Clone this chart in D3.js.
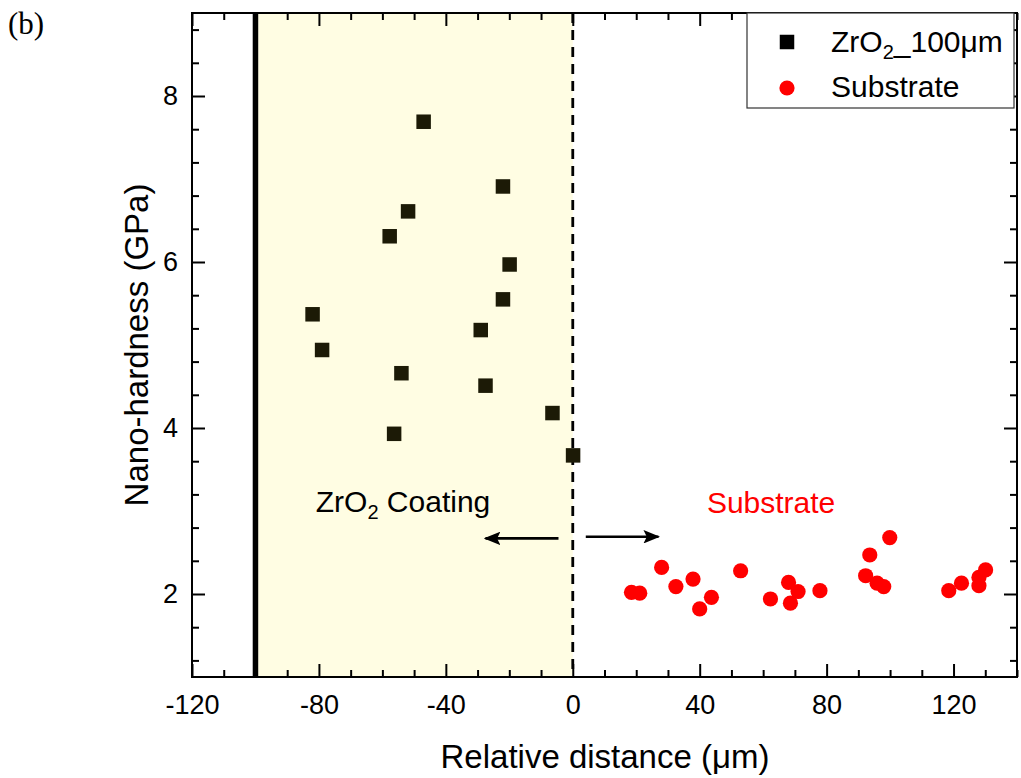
<!DOCTYPE html>
<html>
<head>
<meta charset="utf-8">
<script src="https://cdn.jsdelivr.net/npm/d3@7"></script>
<style>
  body { margin: 0; background: #fff; }
  svg text { font-family: "Liberation Sans", Arial, sans-serif; }
</style>
</head>
<body>
<svg width="1021" height="778" id="chart"></svg>
<script>
  // coating points (ZrO2_100um)
  var coatX = [-47.0, -22.0, -51.9, -57.7, -19.9, -22.0, -82.0, -29.0, -79.0, -54.0, -27.5, -6.4, -56.3, 0.1];
  var coatY = [7.69, 6.91, 6.61, 6.31, 5.97, 5.55, 5.37, 5.18, 4.94, 4.66, 4.51, 4.18, 3.93, 3.67];
  // substrate points
  var subX = [18.5, 21.1, 28.0, 32.5, 37.9, 40.0, 43.7, 52.9, 62.3, 68.0, 71.0, 68.6, 77.9,
              92.3, 93.6, 99.9, 95.9, 98.0, 118.5, 122.5, 128.0, 128.0, 130.1];
  var subY = [2.02, 2.01, 2.32, 2.09, 2.18, 1.82, 1.96, 2.28, 1.94, 2.14, 2.03, 1.89, 2.04,
              2.22, 2.47, 2.68, 2.13, 2.09, 2.04, 2.13, 2.10, 2.20, 2.29];

  var xTicks = [-120, -80, -40, 0, 40, 80, 120];
  var yTicks = [2, 4, 6, 8];
  var xDomain = [-120, 140], yDomain = [1, 9];
  var coatingRange = [-100, 0];

  var svg = d3.select("svg#chart"),
      margin = { top: 13, right: 4, bottom: 101, left: 192 },
      width = +svg.attr("width") - margin.left - margin.right,
      height = +svg.attr("height") - margin.top - margin.bottom,
      g = svg.append("g").attr("transform", "translate(" + margin.left + "," + margin.top + ")");

  var x = d3.scaleLinear().domain(xDomain).range([0, width]);
  var y = d3.scaleLinear().domain(yDomain).range([height, 0]);

  var xMinor = d3.range(-120, 141, 10).filter(function(v) { return xTicks.indexOf(v) < 0; });
  var yMinor = d3.range(1.2, 9, 0.4).map(function(v) { return +v.toFixed(1); })
    .filter(function(v) { return yTicks.indexOf(v) < 0; });

  // coating region
  g.append("rect")
    .attr("x", x(coatingRange[0]))
    .attr("y", 0)
    .attr("width", x(coatingRange[1]) - x(coatingRange[0]))
    .attr("height", height)
    .attr("fill", "#fffde3");

  g.append("line")
    .attr("x1", x(-100)).attr("x2", x(-100))
    .attr("y1", 0).attr("y2", height)
    .attr("stroke", "#000").attr("stroke-width", 5.5);

  g.append("line")
    .attr("x1", x(0)).attr("x2", x(0))
    .attr("y1", 0).attr("y2", height)
    .attr("stroke", "#000").attr("stroke-width", 2.8)
    .attr("stroke-dasharray", "10,7");

  // axes, ticks pointing inward
  function styleAxis(sel, size) {
    sel.select(".domain").remove();
    sel.selectAll("line").attr("stroke", "#000").attr("stroke-width", 2);
    sel.selectAll("text").attr("font-size", size).attr("fill", "#000")
      .style("font-family", "'Liberation Sans', Arial, sans-serif");
  }
  var plain = function(d) { return String(d); };

  g.append("g")
    .attr("transform", "translate(0," + height + ")")
    .call(d3.axisBottom(x).tickValues(xTicks).tickSize(-13).tickPadding(18).tickFormat(plain))
    .call(styleAxis, 27);
  g.append("g")
    .attr("transform", "translate(0," + height + ")")
    .call(d3.axisBottom(x).tickValues(xMinor).tickSize(-7).tickFormat(""))
    .call(styleAxis, 0);
  g.append("g")
    .call(d3.axisTop(x).tickValues(xTicks).tickSize(-13).tickFormat(""))
    .call(styleAxis, 0);
  g.append("g")
    .call(d3.axisTop(x).tickValues(xMinor).tickSize(-7).tickFormat(""))
    .call(styleAxis, 0);

  g.append("g")
    .call(d3.axisLeft(y).tickValues(yTicks).tickSize(-13).tickPadding(14).tickFormat(plain))
    .call(styleAxis, 27);
  g.append("g")
    .call(d3.axisLeft(y).tickValues(yMinor).tickSize(-7).tickFormat(""))
    .call(styleAxis, 0);
  g.append("g")
    .attr("transform", "translate(" + width + ",0)")
    .call(d3.axisRight(y).tickValues(yTicks).tickSize(-13).tickFormat(""))
    .call(styleAxis, 0);
  g.append("g")
    .attr("transform", "translate(" + width + ",0)")
    .call(d3.axisRight(y).tickValues(yMinor).tickSize(-7).tickFormat(""))
    .call(styleAxis, 0);

  // frame
  g.append("rect")
    .attr("width", width).attr("height", height)
    .attr("fill", "none").attr("stroke", "#000").attr("stroke-width", 2);

  // annotations
  var coatLabel = g.append("text")
    .attr("x", x(-81)).attr("y", y(2.99))
    .attr("font-size", 30).attr("fill", "#000");
  coatLabel.append("tspan").text("ZrO");
  coatLabel.append("tspan").attr("font-size", 20).attr("dy", 7).text("2");
  coatLabel.append("tspan").attr("dy", -7).text(" Coating");

  g.append("text")
    .attr("x", x(62.5)).attr("y", y(2.98))
    .attr("text-anchor", "middle")
    .attr("font-size", 30).attr("fill", "#ff0000")
    .text("Substrate");

  svg.append("defs").append("marker")
    .attr("id", "head")
    .attr("viewBox", "0 0 10 10")
    .attr("preserveAspectRatio", "none")
    .attr("refX", 9).attr("refY", 5)
    .attr("markerWidth", 6.4).attr("markerHeight", 5.2)
    .attr("markerUnits", "strokeWidth")
    .attr("orient", "auto")
    .append("path").attr("d", "M0,0L10,5L0,10L2,5Z").attr("fill", "#000");

  var arrows = [[-4.5, -27.5, 2.67], [4.1, 27.0, 2.69]];
  g.selectAll(".arrow")
    .data(arrows)
    .enter().append("line")
    .attr("class", "arrow")
    .attr("x1", function(d) { return x(d[0]); })
    .attr("x2", function(d) { return x(d[1]); })
    .attr("y1", function(d) { return y(d[2]); })
    .attr("y2", function(d) { return y(d[2]); })
    .attr("stroke", "#000").attr("stroke-width", 2.6)
    .attr("marker-end", "url(#head)");

  // points
  var coat = coatX.map(function(v, i) { return { x: v, y: coatY[i] }; });
  var sub = subX.map(function(v, i) { return { x: v, y: subY[i] }; });
  var sq = 14.5;

  g.selectAll(".coat")
    .data(coat)
    .enter().append("rect")
    .attr("class", "coat")
    .attr("x", function(d) { return x(d.x) - sq / 2; })
    .attr("y", function(d) { return y(d.y) - sq / 2; })
    .attr("width", sq).attr("height", sq)
    .attr("fill", "#1c1a06");

  g.selectAll(".sub")
    .data(sub)
    .enter().append("circle")
    .attr("class", "sub")
    .attr("cx", function(d) { return x(d.x); })
    .attr("cy", function(d) { return y(d.y); })
    .attr("r", 7.6)
    .attr("fill", "#ff0000");

  // legend
  var lg = svg.append("g").attr("transform", "translate(747,13)");
  lg.append("rect")
    .attr("width", 267).attr("height", 95)
    .attr("fill", "#fff").attr("stroke", "#333").attr("stroke-width", 1.2);
  lg.append("rect")
    .attr("x", 40 - sq / 2).attr("y", 29 - sq / 2)
    .attr("width", sq).attr("height", sq).attr("fill", "#000");
  lg.append("circle")
    .attr("cx", 40).attr("cy", 75).attr("r", 7.6).attr("fill", "#ff0000");
  var l1 = lg.append("text").attr("x", 84).attr("y", 39).attr("font-size", 30);
  l1.append("tspan").text("ZrO");
  l1.append("tspan").attr("font-size", 20).attr("dy", 7).text("2");
  l1.append("tspan").attr("dy", -7).text("_100μm");
  lg.append("text").attr("x", 84).attr("y", 84).attr("font-size", 30).text("Substrate");

  // axis titles
  svg.append("text")
    .attr("x", 605).attr("y", 768)
    .attr("text-anchor", "middle").attr("font-size", 33)
    .text("Relative distance (μm)");
  svg.append("text")
    .attr("transform", "translate(148,345) rotate(-90)")
    .attr("text-anchor", "middle").attr("font-size", 33)
    .text("Nano-hardness (GPa)");

  svg.append("text")
    .attr("x", 8).attr("y", 34)
    .attr("font-size", 31)
    .style("font-family", "'Liberation Serif', 'DejaVu Serif', serif")
    .text("(b)");
</script>
</body>
</html>
